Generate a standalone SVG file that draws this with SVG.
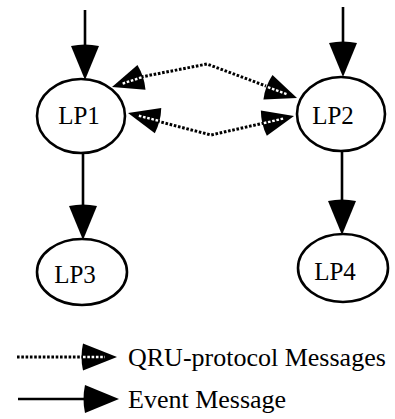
<svg xmlns="http://www.w3.org/2000/svg" xmlns:xlink="http://www.w3.org/1999/xlink" width="395" height="419" viewBox="0 0 395 419">
<style>
.node{fill:#fff;stroke:#000;stroke-width:2.6}
.lbl{font-family:"Liberation Serif","Times New Roman",serif;font-size:25px;fill:#000}
.leg{font-family:"Liberation Serif","Times New Roman",serif;font-size:26px;fill:#000}
.ev{fill:none;stroke:#000;stroke-width:2.6}
.qru{fill:none;stroke:#000;stroke-width:3;stroke-dasharray:2.6 1.7}
.wd{stroke:#fff;stroke-width:2.4;stroke-dasharray:2.6 1.7}
</style>
<defs>
<g id="ehead"><path d="M0,0 L-34,-14 Q-37,0 -34,14 Z" fill="#000"/></g>
<g id="qhead"><path d="M0,0 L-31,-13 Q-34,0 -31,13 Z" fill="#000"/><line class="wd" x1="-31" y1="0" x2="-11" y2="0"/></g>
</defs>
<rect width="395" height="419" fill="#fff"/>
<g id="connectors">
<line class="ev" x1="85" y1="10" x2="85" y2="60"/>
<use xlink:href="#ehead" transform="translate(85,80) rotate(90)"/>
<line class="ev" x1="343" y1="7" x2="343" y2="58"/>
<use xlink:href="#ehead" transform="translate(343,77) rotate(90)"/>
<line class="ev" x1="83" y1="153" x2="83" y2="220"/>
<use xlink:href="#ehead" transform="translate(83,240) rotate(90)"/>
<line class="ev" x1="342" y1="150" x2="342" y2="215"/>
<use xlink:href="#ehead" transform="translate(342,235) rotate(90)"/>
<polyline class="qru" points="141,77 207,64 266,86"/>
<use xlink:href="#qhead" transform="translate(112,87) rotate(162)"/>
<use xlink:href="#qhead" transform="translate(297,98) rotate(20.4)"/>
<polyline class="qru" points="153,120 211,135 264,123"/>
<use xlink:href="#qhead" transform="translate(128,113) rotate(194.3)"/>
<use xlink:href="#qhead" transform="translate(294,116) rotate(-13.3)"/>
</g>
<g id="LP1"><ellipse class="node" cx="81" cy="116" rx="44" ry="37"/><text class="lbl" x="79" y="124" text-anchor="middle">LP1</text></g>
<g id="LP2"><ellipse class="node" cx="341" cy="114" rx="44" ry="37"/><text class="lbl" x="333" y="124" text-anchor="middle">LP2</text></g>
<g id="LP3"><ellipse class="node" cx="82" cy="272" rx="45" ry="33"/><text class="lbl" x="75" y="283" text-anchor="middle">LP3</text></g>
<g id="LP4"><ellipse class="node" cx="343" cy="268" rx="45" ry="34"/><text class="lbl" x="335" y="280" text-anchor="middle">LP4</text></g>
<g id="legend">
<line class="qru" x1="17" y1="357" x2="86" y2="357"/>
<g transform="translate(117,357)"><path d="M0,0 L-34,-13.5 Q-37,0 -34,13.5 Z" fill="#000"/><line class="wd" x1="-34" y1="0" x2="-12" y2="0"/></g>
<text class="leg" x="128" y="366">QRU-protocol Messages</text>
<line class="ev" x1="18" y1="399" x2="90" y2="399"/>
<use xlink:href="#ehead" transform="translate(119,399)"/>
<text class="leg" x="128" y="408">Event Message</text>
</g>
</svg>
